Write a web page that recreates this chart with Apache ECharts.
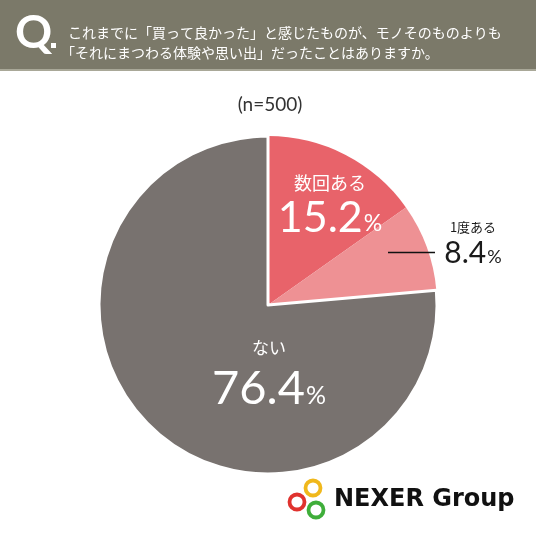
<!DOCTYPE html>
<html><head><meta charset="utf-8">
<script src="https://cdn.jsdelivr.net/npm/echarts@6/dist/echarts.min.js"></script>
<style>html,body{margin:0;padding:0;background:#fff}#c{width:536px;height:533px}</style>
</head><body><div id="c"></div>
<script>
const categories = ['数回ある', '1度ある', 'ない'];
const values = [15.2, 8.4, 76.4];
const colors = ['#e8636a', '#ee9194', '#78726f'];
const sampleLabel = '(n=500)';
const questionLines = ['これまでに「買って良かった」と感じたものが、モノそのものよりも', '「それにまつわる体験や思い出」だったことはありますか。'];

const chart = echarts.init(document.getElementById('c'), null, {renderer: 'canvas'});
const JP = '"Noto Sans CJK JP", "Noto Sans", sans-serif';
const NUM = 'Lato, "Noto Sans", sans-serif';

// label styling per slice (position of annotation text, sizes, colour)
const labelCfg = [
  {x: 330, yName: 183, yVal: 218, nameSize: 18, valSize: 43, pctSize: 23, color: '#fff'},
  {x: 473, yName: 227, yVal: 253, nameSize: 13, valSize: 30, pctSize: 18, color: '#1a1a1a'},
  {x: 269, yName: 348, yVal: 389, nameSize: 17, valSize: 47, pctSize: 25, color: '#fff'}
];

const labelGraphics = [];
categories.forEach((name, i) => {
  const c = labelCfg[i];
  labelGraphics.push({type: 'text', z: 10, style: {
    x: c.x, y: c.yName, text: name, fill: c.color, font: c.nameSize + 'px ' + JP,
    align: 'center', verticalAlign: 'middle'}});
  labelGraphics.push({type: 'text', z: 10, style: {
    x: c.x, y: c.yVal, text: '{b|' + values[i].toFixed(1) + '}{p|%}', fill: c.color,
    align: 'center', verticalAlign: 'middle',
    rich: {
      b: {fontSize: c.valSize, fontFamily: NUM, fill: c.color, color: c.color},
      p: {fontSize: c.pctSize, fontFamily: NUM, fill: c.color, color: c.color, padding: [Math.round(c.valSize * 0.28), 0, 0, 1]}
    }}});
});

chart.setOption({
  animation: false,
  backgroundColor: '#ffffff',
  graphic: [
    {type: 'rect', shape: {x: 0, y: 0, width: 536, height: 71}, style: {fill: '#a9a898'}, z: 0},
    {type: 'rect', shape: {x: 0, y: 0, width: 536, height: 69}, style: {fill: '#7b7969'}, z: 1},
    {type: 'text', x: 15, y: 33, style: {text: 'Q', fill: '#fff', font: 'bold 46px ' + NUM, textVerticalAlign: 'middle'}, z: 2},
    {type: 'rect', shape: {x: 51, y: 43, width: 5, height: 5}, style: {fill: '#fff'}, z: 2},
    {type: 'text', x: 68, y: 33, style: {text: questionLines[0], fill: '#fff', font: '14px ' + JP, textVerticalAlign: 'middle'}, z: 2},
    {type: 'text', x: 61, y: 53, style: {text: questionLines[1], fill: '#fff', font: '14px ' + JP, textVerticalAlign: 'middle'}, z: 2},
    {type: 'text', x: 270, y: 105, style: {text: sampleLabel, fill: '#333', font: '19px ' + NUM, textAlign: 'center', textVerticalAlign: 'middle'}, z: 2},
    {type: 'line', shape: {x1: 388, y1: 252.5, x2: 435, y2: 252.5}, style: {stroke: '#111', lineWidth: 1.6}, z: 10},
    {type: 'circle', shape: {cx: 313, cy: 488, r: 7.5}, style: {fill: 'none', stroke: '#f0b81c', lineWidth: 3.8}, z: 2},
    {type: 'circle', shape: {cx: 297, cy: 502, r: 7.5}, style: {fill: 'none', stroke: '#e0322e', lineWidth: 3.8}, z: 3},
    {type: 'circle', shape: {cx: 316, cy: 510, r: 7.5}, style: {fill: 'none', stroke: '#3fae3a', lineWidth: 3.8}, z: 4},
    {type: 'text', x: 334, y: 500, style: {text: 'NEXER Group', fill: '#111', font: 'bold 24px "DejaVu Sans", sans-serif', textVerticalAlign: 'middle'}, z: 2}
  ].concat(labelGraphics),
  series: [{
    type: 'pie',
    center: [268, 305],
    radius: [0, 169],
    startAngle: 90,
    clockwise: true,
    silent: true,
    label: {show: false},
    labelLine: {show: false},
    data: categories.map((n, i) => ({
      name: n, value: values[i],
      itemStyle: {color: colors[i], borderColor: '#fff', borderWidth: i === 2 ? 3 : 0}
    }))
  }]
});
</script></body></html>
